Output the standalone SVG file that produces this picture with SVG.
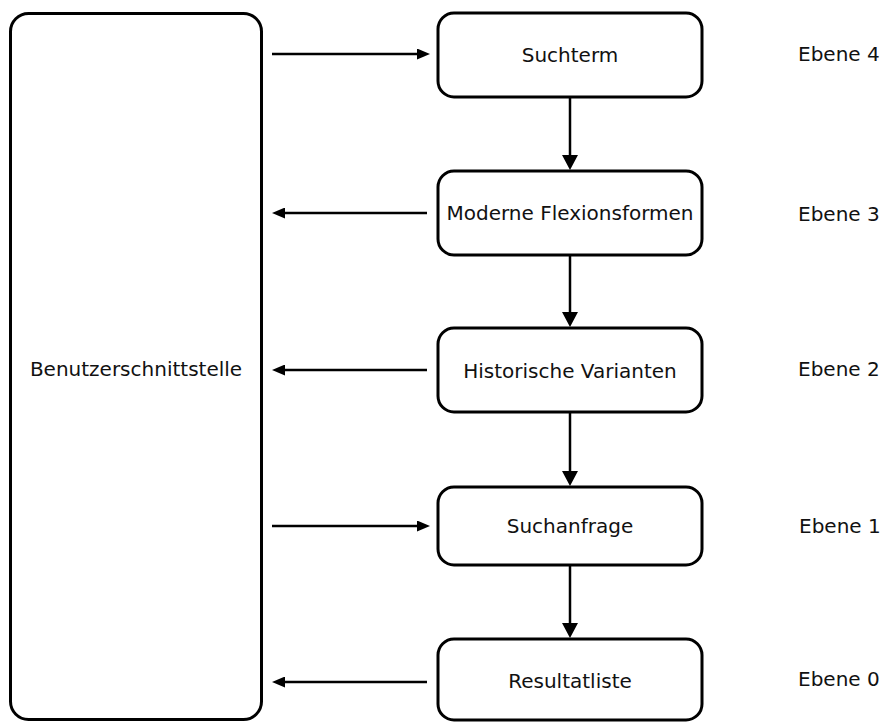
<svg xmlns="http://www.w3.org/2000/svg" width="883" height="722" viewBox="0 0 883 722">
  <style>
    .box { fill: #ffffff; stroke: #000000; stroke-width: 3; }
    .lbl { font-family: "DejaVu Sans", sans-serif; font-size: 20px; fill: #111111; }
    .mid { text-anchor: middle; }
    .conn { stroke: #000000; stroke-width: 2.5; fill: none; }
  </style>
  <defs>
    <marker id="headSmall" markerUnits="userSpaceOnUse" markerWidth="13" markerHeight="11" viewBox="0 0 13 11" refX="7" refY="5.5" orient="auto">
      <path d="M0,0 L13,5.5 L0,11 z" fill="#000000"/>
    </marker>
    <marker id="headLarge" markerUnits="userSpaceOnUse" markerWidth="15" markerHeight="16" viewBox="0 0 15 16" refX="8" refY="8" orient="auto">
      <path d="M0,0 L15,8 L0,16 z" fill="#000000"/>
    </marker>
  </defs>

  <rect width="883" height="722" fill="#ffffff"/>

  <g id="connectors">
    <!-- interface to/from the processing levels -->
    <line class="conn" x1="272" y1="54" x2="424" y2="54" marker-end="url(#headSmall)"/>
    <line class="conn" x1="427" y1="213" x2="278" y2="213" marker-end="url(#headSmall)"/>
    <line class="conn" x1="427" y1="370" x2="278" y2="370" marker-end="url(#headSmall)"/>
    <line class="conn" x1="272" y1="526" x2="424" y2="526" marker-end="url(#headSmall)"/>
    <line class="conn" x1="427" y1="682" x2="278" y2="682" marker-end="url(#headSmall)"/>
    <!-- downward flow between levels -->
    <line class="conn" x1="570" y1="97" x2="570" y2="163" marker-end="url(#headLarge)"/>
    <line class="conn" x1="570" y1="255" x2="570" y2="320" marker-end="url(#headLarge)"/>
    <line class="conn" x1="570" y1="412" x2="570" y2="479" marker-end="url(#headLarge)"/>
    <line class="conn" x1="570" y1="565" x2="570" y2="631" marker-end="url(#headLarge)"/>
  </g>

  <g id="benutzerschnittstelle">
    <rect class="box" x="10.5" y="13.5" width="251" height="706" rx="18" ry="18"/>
    <text class="lbl mid" x="136" y="376">Benutzerschnittstelle</text>
  </g>

  <g id="suchterm">
    <rect class="box" x="438" y="13" width="264" height="84" rx="16" ry="16"/>
    <text class="lbl mid" x="570" y="62">Suchterm</text>
  </g>

  <g id="flexionsformen">
    <rect class="box" x="438" y="171" width="264" height="84" rx="16" ry="16"/>
    <text class="lbl mid" x="570" y="220">Moderne Flexionsformen</text>
  </g>

  <g id="varianten">
    <rect class="box" x="438" y="328" width="264" height="84" rx="16" ry="16"/>
    <text class="lbl mid" x="570" y="378">Historische Varianten</text>
  </g>

  <g id="suchanfrage">
    <rect class="box" x="438" y="487" width="264" height="78" rx="16" ry="16"/>
    <text class="lbl mid" x="570" y="533">Suchanfrage</text>
  </g>

  <g id="resultatliste">
    <rect class="box" x="438" y="639" width="264" height="81" rx="16" ry="16"/>
    <text class="lbl mid" x="570" y="688">Resultatliste</text>
  </g>

  <g id="ebenen">
    <text class="lbl" x="798" y="61">Ebene 4</text>
    <text class="lbl" x="798" y="221">Ebene 3</text>
    <text class="lbl" x="798" y="376">Ebene 2</text>
    <text class="lbl" x="799" y="533">Ebene 1</text>
    <text class="lbl" x="798" y="686">Ebene 0</text>
  </g>
</svg>
